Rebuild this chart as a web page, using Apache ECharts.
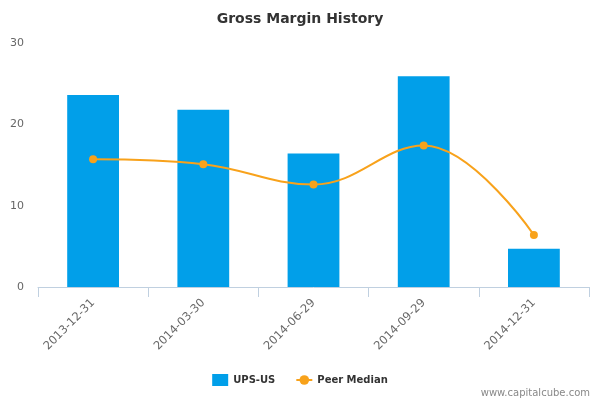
<!DOCTYPE html>
<html><head><meta charset="utf-8">
<script src="https://cdn.jsdelivr.net/npm/echarts@6/dist/echarts.min.js"></script>
<style>html,body{margin:0;padding:0;background:#fff}#c{width:600px;height:400px}</style>
</head><body><div id="c"></div>
<script>
var categories = ['2013-12-31','2014-03-30','2014-06-29','2014-09-29','2014-12-31'];
var upsValues = [23.6, 21.8, 16.4, 25.9, 4.7];
var peerMedian = [15.7, 15.1, 12.6, 17.4, 6.4];
var yTicks = [0, 10, 20, 30];

var chart = echarts.init(document.getElementById('c'), null, {renderer:'canvas'});
chart.setOption({
  animation:false,
  backgroundColor:'#fff',
  title:{text:'Gross Margin History',left:'center',top:7,textStyle:{fontFamily:'DejaVu Sans',fontSize:14,fontWeight:'bold',color:'#333'}},
  legend:{bottom:9,left:'center',itemGap:20,itemWidth:16,itemHeight:12,
    textStyle:{fontFamily:'DejaVu Sans',fontSize:10,fontWeight:'bold',color:'#333'},
    data:[{name:'UPS-US',icon:'rect'},{name:'Peer Median'}]},
  graphic:[{type:'text',right:10,bottom:2,style:{text:'www.capitalcube.com',fontFamily:'DejaVu Sans',fontSize:10,fill:'#888'}}],
  grid:{left:38,right:11,top:43,bottom:113,containLabel:false},
  xAxis:{type:'category',data:categories,boundaryGap:true,
    axisLine:{lineStyle:{color:'#c0d0e0'}},
    axisTick:{show:true,length:10,lineStyle:{color:'#c0d0e0'}},
    axisLabel:{rotate:45,color:'#666',fontFamily:'DejaVu Sans',fontSize:11.5,margin:14}},
  yAxis:{type:'value',min:yTicks[0],max:yTicks[yTicks.length-1],interval:10,
    axisLine:{show:false},axisTick:{show:false},splitLine:{show:false},
    axisLabel:{color:'#666',fontFamily:'DejaVu Sans',fontSize:11,margin:14}},
  series:[
    {name:'UPS-US',type:'bar',data:upsValues,barWidth:'47%',itemStyle:{color:'#019fe9'}},
    {name:'Peer Median',type:'line',data:peerMedian,smooth:0.4,symbol:'circle',symbolSize:8,
      lineStyle:{color:'#f8a21b',width:2},itemStyle:{color:'#f8a21b'}}
  ]
});
</script></body></html>
